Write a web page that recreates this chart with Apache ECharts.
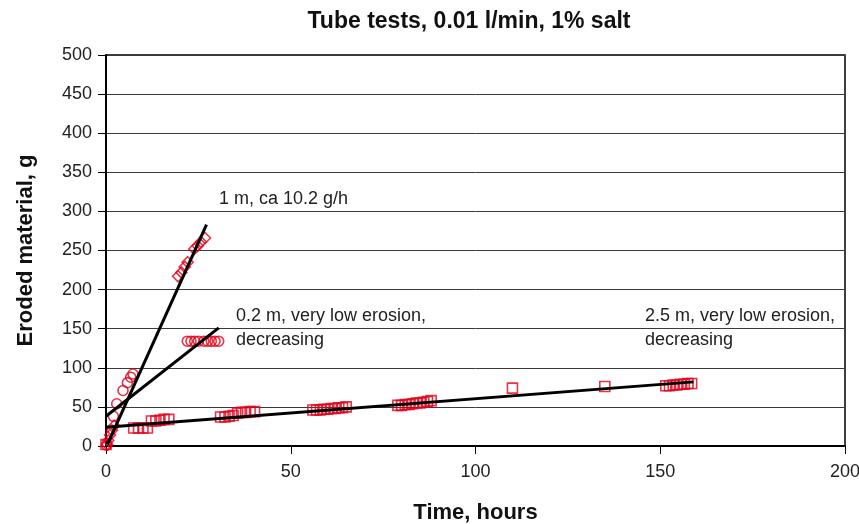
<!DOCTYPE html>
<html>
<head>
<meta charset="utf-8">
<script src="https://cdn.jsdelivr.net/npm/echarts@6/dist/echarts.min.js"></script>
<style>html,body{margin:0;padding:0;background:#fff;}#c{width:859px;height:524px;}</style>
</head>
<body>
<div id="c"></div>
<script>
// 1 m series (diamonds): [time h, eroded g]
const oneMeter = [[0.3,2],[0.6,7],[1.1,14],[1.6,20],[2.2,26],[19.5,217],[20.4,222],[21.3,229],[22.1,235],[23.9,252],[24.8,256],[25.7,261],[26.8,266]];
// 0.2 m series (circles)
const pointTwoMeter = [[0.2,1],[2,38],[2.9,54],[4.6,71],[5.8,81],[6.7,88],[7.3,92],[22,134],[23,134],[24,134],[25,134],[26.5,134],[27.5,134],[28.5,134],[29.5,134],[30.5,134]];
// 2.5 m series (squares)
const twoFiveMeter = [[0,2],[7.5,23],[8.8,23],[10,23],[11.2,23],[12.3,32],[13.5,32],[14.6,33],[15.7,34],[17,34],
  [31,37],[32.2,37],[33.3,38],[34.4,39],[35.6,42],[36.7,43],[37.8,43],[39,44],[40.2,44],
  [56,46],[57,46],[58,46],[59,47],[60,47],[61,48],[62,48],[63,49],[64,49],[65,50],
  [79,52],[80,52],[81,53],[82,53],[83,54],[84,55],[85,55],[86,56],[87,57],[88,58],
  [110,74],[135,76],[151.5,77],[152.5,77],[153.5,78],[154.5,78],[155.5,79],[156.5,79],[157.5,80],[158.5,80]];
// trend lines
const trend1m = [[0.4,2],[27.2,283]];
const trend02m = [[0,38],[30.5,151]];
const trend25m = [[0,24],[159,82]];
// ticks
const xTicks = {min:0,max:200,step:50};
const yTicks = {min:0,max:500,step:50};
// texts
const titleText = 'Tube tests, 0.01 l/min, 1% salt';
const xName = 'Time, hours';
const yName = 'Eroded material, g';
const notes = [
  {text:'1 m, ca 10.2 g/h', x:219, y:187},
  {text:'0.2 m, very low erosion,\ndecreasing', x:236, y:304},
  {text:'2.5 m, very low erosion,\ndecreasing', x:645, y:304}
];

const FONT = 'Liberation Sans, Arial, sans-serif';
const RED = '#e2001a';
const chart = echarts.init(document.getElementById('c'), null, {renderer:'canvas'});

const markerSeries = (name, data, symbol, size) => ({
  name, type:'scatter', data, symbol, symbolSize:size,
  itemStyle:{color:'rgba(255,255,255,0)', borderColor:RED, borderWidth:1.6},
  z:3
});
const trendSeries = (name, data) => ({
  name, type:'line', data, showSymbol:false, symbol:'none',
  lineStyle:{color:'#000', width:3}, z:4, silent:true
});

chart.setOption({
  animation:false,
  backgroundColor:'#fff',
  title:{text:titleText, left:464, top:5, textAlign:'center',
    textStyle:{fontFamily:FONT, fontWeight:'bold', fontSize:23, color:'#111'}},
  grid:{left:106, right:14, top:55, bottom:78, show:true, borderColor:'#000', borderWidth:1.5,
    containLabel:false, outerBoundsMode:'none'},
  xAxis:{type:'value', min:xTicks.min, max:xTicks.max, interval:xTicks.step,
    name:xName, nameLocation:'middle', nameGap:56,
    nameTextStyle:{fontFamily:FONT, fontWeight:'bold', fontSize:22, color:'#111'},
    axisLine:{show:true, onZero:false, lineStyle:{color:'#000', width:2}},
    axisTick:{show:true, inside:false, length:8, lineStyle:{color:'#000', width:1}},
    axisLabel:{fontFamily:FONT, fontSize:18, color:'#222', margin:17},
    splitLine:{show:false}},
  yAxis:{type:'value', min:yTicks.min, max:yTicks.max, interval:yTicks.step,
    name:yName, nameLocation:'middle', nameGap:69,
    nameTextStyle:{fontFamily:FONT, fontWeight:'bold', fontSize:22, color:'#111'},
    axisLine:{show:true, onZero:false, lineStyle:{color:'#000', width:2}},
    axisTick:{show:true, inside:false, length:8, lineStyle:{color:'#000', width:1}},
    axisLabel:{fontFamily:FONT, fontSize:18, color:'#222', margin:14, padding:[5,0,0,0]},
    splitLine:{show:true, lineStyle:{color:'#3a3a3a', width:1}}},
  series:[
    markerSeries('1 m', oneMeter, 'diamond', 11),
    markerSeries('0.2 m', pointTwoMeter, 'circle', 10),
    markerSeries('2.5 m', twoFiveMeter, 'rect', 10),
    trendSeries('1 m trend', trend1m),
    trendSeries('0.2 m trend', trend02m),
    trendSeries('2.5 m trend', trend25m)
  ],
  graphic: notes.map(n => ({type:'text', left:n.x, top:n.y, z:10,
    style:{text:n.text, fontFamily:FONT, fontSize:18, fill:'#222', lineHeight:24}}))
});
</script>
</body>
</html>
